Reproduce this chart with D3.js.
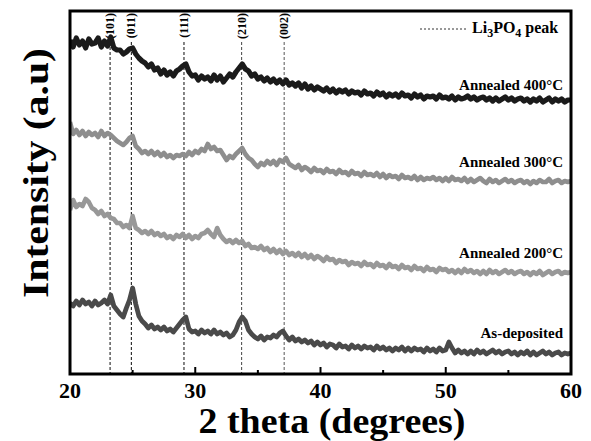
<!DOCTYPE html>
<html>
<head>
<meta http-equiv="Content-Type" content="text/html;charset=utf-8"/>
<style>
  body { margin: 0; background: #fff; }
  text { font-family: "Liberation Serif", "Times New Roman", serif; font-weight: bold; }
</style>
</head>
<body>
  <svg id="xrd-svg"></svg>
  <script src="https://d3js.org/d3.v7.min.js"></script>
  <script>
  // Scan grid: 2 theta from 20 to 60 degrees, one reading every 0.25 degree
  var thetaStart = 20;
  var thetaStep = 0.25;

  // Intensity readings (a.u., offsets already applied)
  var annealed400 = [
    334,327,336,329, 333,326,335,330, 331,336,327,333, 328,337,326,324,
    324,320,322,325, 326,320,316,313, 311,307,310,304, 306,300,304,299,
    302,298,303,305, 308,310,302,298, 299,294,298,295, 297,293,299,294,
    298,292,296,300, 297,302,306,310, 305,303,298,300, 295,297,293,296,
    292,295,291,294, 290,294,289,291, 288,291,286,290, 285,288,284,287,
    285,283,286,282, 285,281,284,282, 284,280,283,281, 282,279,283,280,
    281,278,282,279, 281,277,280,278, 280,277,281,278, 279,276,280,277,
    279,275,278,277, 278,275,279,276, 277,275,278,274, 277,275,276,278,
    275,277,274,276, 277,274,276,273, 276,273,275,277, 274,276,273,275,
    276,273,275,272, 275,273,276,272, 274,276,272,275, 273,275,272,274,
    274
  ];
  var annealed300 = [
    252,240,244,239, 243,238,242,239, 241,237,243,238, 241,239,236,233,
    231,229,232,236, 238,228,225,221, 223,220,223,219, 222,218,221,217,
    219,216,219,218, 220,218,222,219, 223,221,225,223, 230,225,227,223,
    224,219,214,218, 216,220,223,226, 220,216,214,210, 207,211,209,213,
    210,213,209,214, 212,216,210,208, 206,209,204,207, 205,202,206,203,
    204,201,205,202, 203,200,204,201, 202,199,203,200, 201,198,202,199,
    200,198,201,197, 200,196,199,197, 198,195,199,196, 197,195,198,194,
    197,194,196,195, 197,194,196,193, 196,193,197,194, 195,193,196,192,
    195,192,194,196, 193,191,195,192, 194,191,193,195, 192,194,191,193,
    194,191,193,190, 193,191,194,192, 192,195,191,193, 194,191,193,192,
    193
  ];
  var annealed200 = [
    164,174,167,170, 168,175,172,166, 164,160,163,158, 160,156,155,151,
    151,147,149,146, 158,146,144,141, 143,140,143,139, 141,138,140,136,
    138,135,139,137, 140,136,139,135, 138,136,140,141, 144,140,137,146,
    139,135,132,134, 131,134,131,133, 128,130,126,127, 125,128,124,126,
    122,125,121,124, 120,123,119,121, 118,121,117,120, 116,119,115,118,
    116,113,117,114, 115,111,114,112, 113,109,112,110, 111,108,112,109,
    110,107,111,108, 109,106,110,107, 108,105,109,106, 107,104,108,105,
    106,103,107,104, 105,102,106,104, 105,102,104,101, 104,101,105,102,
    104,101,103,100, 103,100,104,101, 103,100,102,104, 101,103,100,102,
    103,100,102,99, 102,100,103,99, 101,103,100,102, 103,100,102,101,
    102
  ];
  var asDeposited = [
    71,68,73,69, 74,70,72,68, 73,69,71,74, 70,79,68,64,
    60,57,66,74, 86,70,58,53, 50,46,49,45, 47,44,47,43,
    45,42,46,50, 54,57,45,42, 43,40,44,41, 43,40,44,40,
    42,39,41,37, 39,44,52,57, 53,44,40,37, 35,38,34,37,
    36,39,37,41, 43,38,34,37, 33,35,32,34, 31,33,29,32,
    29,31,27,30, 29,26,30,27, 28,25,29,26, 28,25,28,26,
    27,24,28,25, 27,24,26,23, 26,24,27,23, 26,23,26,24,
    25,22,26,23, 25,22,26,23, 24,32,26,21, 24,21,23,20,
    23,20,24,21, 23,20,22,24, 21,23,20,22, 23,20,22,19,
    22,20,23,19, 22,19,21,23, 20,22,19,21, 22,19,21,20,
    21
  ];

  var seriesNames = ["Annealed 400\u00b0C", "Annealed 300\u00b0C", "Annealed 200\u00b0C", "As-deposited"];
  var seriesValues = [annealed400, annealed300, annealed200, asDeposited];

  // Li3PO4 reference peaks
  var peakPositions = [23.2, 24.9, 29.1, 33.7, 37.1];
  var peakLabels = ["(101)", "(011)", "(111)", "(210)", "(002)"];

  var xTickValues = [20, 30, 40, 50, 60];
  var xMinorTicks = [25, 35, 45, 55];

  var config = {
    svgWidth: 591,
    svgHeight: 441,
    plot: { left: 70, right: 571, top: 11, bottom: 374 },
    yMax: 363,
    seriesColors: ["#1b1b1b", "#8e8e8e", "#989898", "#4a4a4a"],
    lineWidths: [5.2, 4.6, 4.6, 4.8],
    labelRight: 563,
    labelOffsets: [-10, -14, -14, -15],// label baseline relative to the right end of each trace
    labelFontSize: 15,
    peakColors: ["#222", "#222", "#222", "#555", "#666"],
  }

  var svg = d3.select('#xrd-svg')
      .attr('width', config.svgWidth)
      .attr('height', config.svgHeight);

  var x = d3.scaleLinear()
    .domain([20, 60])
    .range([config.plot.left, config.plot.right]);

  var y = d3.scaleLinear()
    .domain([0, config.yMax])
    .range([config.plot.bottom, config.plot.top]);

  svg.append('clipPath')
    .attr('id', 'plot-clip')
    .append('rect')
    .attr('x', config.plot.left)
    .attr('y', config.plot.top)
    .attr('width', config.plot.right - config.plot.left)
    .attr('height', config.plot.bottom - config.plot.top);

  // Dashed peak markers with their rotated hkl labels
  peakPositions.forEach(function(p, i) {
    svg.append('line')
      .attr('x1', x(p)).attr('x2', x(p))
      .attr('y1', 42).attr('y2', config.plot.bottom)
      .attr('stroke', config.peakColors[i])
      .attr('stroke-width', 1.1)
      .attr('stroke-dasharray', '3,2');
    svg.append('text')
      .attr('transform', 'translate(' + (x(p) + 4) + ',13) rotate(-90)')
      .attr('text-anchor', 'end')
      .attr('font-size', '12px')
      .text(peakLabels[i]);
  });

  // The traces
  var line = d3.line()
    .x(function(d, i) { return x(thetaStart + i * thetaStep) })
    .y(function(d) { return y(d) });

  var traces = svg.append('g').attr('clip-path', 'url(#plot-clip)');
  seriesValues.forEach(function(values, i) {
    traces.append('path')
      .attr('d', line(values))
      .attr('fill', 'none')
      .attr('stroke', config.seriesColors[i])
      .attr('stroke-width', config.lineWidths[i])
      .attr('stroke-linejoin', 'round');
    svg.append('text')
      .attr('x', config.labelRight)
      .attr('y', y(values[values.length - 1]) + config.labelOffsets[i])
      .attr('text-anchor', 'end')
      .attr('font-size', config.labelFontSize + 'px')
      .text(seriesNames[i]);
  });

  // Legend for the dashed markers
  svg.append('line')
    .attr('x1', 420).attr('x2', 467)
    .attr('y1', 29).attr('y2', 29)
    .attr('stroke', '#333')
    .attr('stroke-width', 1)
    .attr('stroke-dasharray', '2,2');
  var legendText = svg.append('text')
    .attr('x', 472)
    .attr('y', 33)
    .attr('font-size', '16px');
  legendText.append('tspan').text('Li');
  legendText.append('tspan').attr('font-size', '12px').attr('dy', 4).text('3');
  legendText.append('tspan').attr('dy', -4).text('PO');
  legendText.append('tspan').attr('font-size', '12px').attr('dy', 4).text('4');
  legendText.append('tspan').attr('dy', -4).text(' peak');

  // Bottom axis: inward ticks, labels below
  var axisG = svg.append('g');
  xTickValues.forEach(function(t) {
    axisG.append('line')
      .attr('x1', x(t)).attr('x2', x(t))
      .attr('y1', config.plot.bottom).attr('y2', config.plot.bottom - 7)
      .attr('stroke', '#000').attr('stroke-width', 2);
    axisG.append('text')
      .attr('x', x(t))
      .attr('y', 398)
      .attr('text-anchor', 'middle')
      .attr('font-size', '22px')
      .text(t);
  });
  xMinorTicks.forEach(function(t) {
    axisG.append('line')
      .attr('x1', x(t)).attr('x2', x(t))
      .attr('y1', config.plot.bottom).attr('y2', config.plot.bottom - 4)
      .attr('stroke', '#000').attr('stroke-width', 2);
  });

  // Frame
  svg.append('rect')
    .attr('x', config.plot.left)
    .attr('y', config.plot.top)
    .attr('width', config.plot.right - config.plot.left)
    .attr('height', config.plot.bottom - config.plot.top)
    .attr('fill', 'none')
    .attr('stroke', '#000')
    .attr('stroke-width', 3);

  // Axis titles
  svg.append('text')
    .attr('x', 332)
    .attr('y', 433)
    .attr('text-anchor', 'middle')
    .attr('font-size', '35px')
    .attr('textLength', 267)
    .attr('lengthAdjust', 'spacingAndGlyphs')
    .text('2 theta (degrees)');

  svg.append('text')
    .attr('transform', 'translate(48,173) rotate(-90)')
    .attr('text-anchor', 'middle')
    .attr('font-size', '36px')
    .attr('textLength', 250)
    .attr('lengthAdjust', 'spacingAndGlyphs')
    .text('Intensity (a.u)');
  </script>
</body>
</html>
